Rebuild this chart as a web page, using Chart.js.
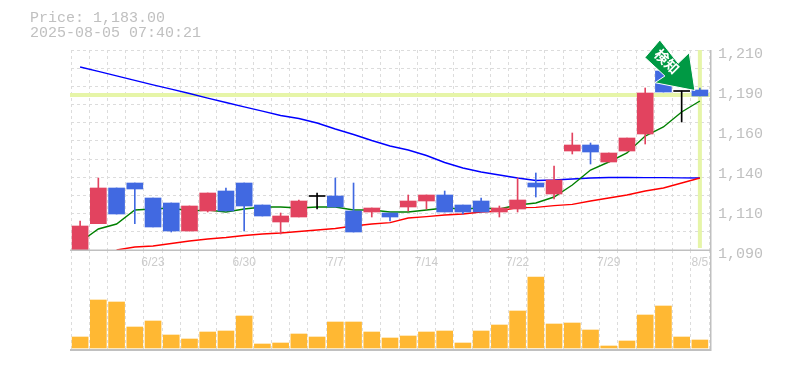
<!DOCTYPE html>
<html>
<head>
<meta charset="utf-8">
<style>
html, body { margin: 0; padding: 0; background: #fff; }
#wrap { position: relative; width: 785px; height: 370px; overflow: hidden; }
canvas { position: absolute; left: 0; top: 0; }
</style>
<script src="https://cdn.jsdelivr.net/npm/chart.js@4/dist/chart.umd.min.js"></script>
</head>
<body>
<div id="wrap">
<canvas id="volumeGraph" width="785" height="370"></canvas>
<canvas id="priceGraph" width="785" height="370"></canvas>
</div>
<script>
var dates = ["6/17","6/18","6/19","6/20","6/23","6/24","6/25","6/26","6/27","6/30","7/1","7/2","7/3","7/4","7/7","7/8","7/9","7/10","7/11","7/14","7/15","7/16","7/17","7/18","7/22","7/23","7/24","7/25","7/28","7/29","7/30","7/31","8/1","8/4","8/5"];
var shownDates = ["6/23","6/30","7/7","7/14","7/22","7/29","8/5"];
var priceTicks = [1090,1114,1138,1162,1186,1210];

var opens  = [1090.0,1105.8,1127.2,1130.2,1121.2,1118.2,1101.4,1113.4,1125.4,1130.2,1117.0,1106.8,1109.8,1122.4,1122.4,1113.4,1112.8,1112.2,1115.8,1119.4,1123.0,1117.0,1119.4,1112.8,1114.6,1130.2,1123.6,1149.4,1153.0,1142.8,1149.4,1159.6,1197.4,1185.4,1186.0];
var closes = [1104.4,1127.2,1111.6,1126.6,1103.8,1101.4,1116.4,1124.2,1113.4,1116.4,1110.4,1110.4,1119.4,1122.4,1115.8,1100.8,1115.2,1109.8,1119.4,1123.0,1112.8,1112.8,1112.8,1115.2,1120.0,1127.8,1132.0,1153.0,1148.8,1148.2,1157.2,1184.2,1184.8,1185.4,1182.4];
var highs  = [1107.4,1133.2,1127.2,1130.2,1121.2,1118.2,1116.4,1124.2,1127.2,1130.2,1117.0,1112.2,1120.0,1124.2,1133.2,1130.2,1115.2,1112.2,1123.0,1123.0,1125.4,1117.0,1121.2,1116.4,1133.2,1136.2,1140.4,1160.2,1154.2,1148.2,1157.2,1187.2,1197.4,1185.4,1187.2];
var lows   = [1090.0,1105.8,1111.6,1105.8,1103.8,1100.8,1101.4,1112.8,1113.4,1101.4,1110.4,1099.6,1109.8,1114.6,1115.8,1100.8,1109.8,1107.4,1113.4,1114.6,1112.8,1111.6,1112.8,1109.8,1112.8,1121.8,1120.6,1147.6,1141.6,1142.8,1149.4,1153.6,1184.8,1166.8,1182.4];

var maShort = [1094.8,1102.6,1105.6,1114.0,1114.6,1115.2,1113.4,1114.0,1112.8,1114.6,1115.8,1115.8,1115.2,1115.8,1115.8,1114.0,1114.0,1112.8,1112.8,1114.0,1115.2,1114.6,1115.2,1114.6,1117.0,1118.2,1121.8,1129.0,1138.0,1142.8,1148.2,1158.4,1163.8,1172.8,1179.4];
var maMid = [null,null,1090.0,1091.8,1092.4,1093.9,1095.4,1096.6,1097.5,1098.7,1099.6,1100.2,1101.1,1102.0,1102.9,1104.4,1105.6,1106.4,1109.2,1110.0,1111.0,1111.6,1112.8,1113.4,1115.4,1115.6,1116.6,1117.4,1119.4,1121.2,1123.0,1125.4,1127.2,1130.2,1133.2];
var maLong = [1199.8,1197.2,1194.5,1191.8,1189.1,1186.5,1183.9,1181.1,1178.5,1175.9,1173.3,1170.7,1168.9,1166.2,1162.6,1159.3,1155.7,1152.4,1150.0,1146.7,1142.5,1139.2,1136.8,1135.0,1133.2,1131.7,1132.0,1132.6,1133.2,1133.5,1133.5,1133.4,1133.4,1133.3,1133.2];
var volumes = [11,48,46,21,27,13,9,16,17,32,4,5,14,11,26,26,16,10,12,16,17,5,17,23,37,71,24,25,18,2,7,33,42,11,8];

var lastPrice = 1183;
var candleUp = "#e2435f";
var candleDown = "#4169e1";
var candleFlat = "#000000";
var gridColor = "#dcdcdc";
var axisColor = "#c0c0c0";
var textColor = "#c0c0c0";
var markerColor = "#e6f5a8";

function candle_color(i) {
    if (closes[i] > opens[i]) {
        return candleUp;
    } else if (closes[i] < opens[i]) {
        return candleDown;
    }
    return candleFlat;
}

var candleColors = dates.map((d, i) => candle_color(i));
var bodies = dates.map((d, i) => (opens[i] == closes[i] ? [opens[i] - 0.3, closes[i] + 0.3] : [opens[i], closes[i]]));
var wicks = dates.map((d, i) => [lows[i], highs[i]]);

function x_scale_options(showLabels) {
    return {
        offset: true,
        border: { display: false, dash: [3, 3] },
        grid: { offset: true, color: gridColor, lineWidth: 1, tickLength: 0, drawTicks: false },
        ticks: {
            display: showLabels,
            autoSkip: false,
            maxRotation: 0,
            padding: 5,
            color: "#cccccc",
            font: { family: "'Liberation Sans'", size: 12 },
            callback: function (value) {
                var label = this.getLabelForValue(value);
                return shownDates.includes(label) ? label : "";
            },
        },
        afterFit: function (axis) {
            axis.height = 20;
        },
    };
}

// current price lines and the header sit outside the datasets
var markerPlugin = {
    id: "markers",
    beforeDatasetsDraw: function (chart) {
        var ctx = chart.ctx;
        var area = chart.chartArea;
        var y = chart.scales.y.getPixelForValue(lastPrice);
        var x = chart.scales.x.getPixelForValue(dates.length - 1);
        ctx.save();
        ctx.fillStyle = markerColor;
        ctx.fillRect(area.left - 1, y - 2, area.right - area.left + 3, 4);
        ctx.fillRect(x - 2, area.top, 4, area.bottom - area.top - 2);
        ctx.restore();
    },
    afterDraw: function (chart) {
        var ctx = chart.ctx;
        var area = chart.chartArea;
        ctx.save();
        // axis frame
        ctx.fillStyle = axisColor;
        ctx.fillRect(area.left - 1, area.bottom - 0.5, area.right - area.left + 2, 1.5);
        ctx.fillRect(area.right + 1, area.top, 1.5, 301);
        // header
        ctx.fillStyle = textColor;
        ctx.font = "15px 'Liberation Mono'";
        ctx.textBaseline = "alphabetic";
        ctx.fillText("Price: 1,183.00", 30, 22);
        ctx.fillText("2025-08-05 07:40:21", 30, 37);
        // arrow pointing at the last candle
        var tipX = chart.scales.x.getPixelForValue(dates.length - 1) - 5;
        var tipY = chart.scales.y.getPixelForValue(lastPrice) - 4.5;
        ctx.translate(tipX, tipY);
        ctx.beginPath();
        ctx.moveTo(0, 0);
        ctx.lineTo(-5.7, -37.8);
        ctx.lineTo(-16.7, -27.2);
        ctx.lineTo(-35, -50.5);
        ctx.lineTo(-50, -33);
        ctx.lineTo(-30, -14.5);
        ctx.lineTo(-40, -7.8);
        ctx.closePath();
        ctx.fillStyle = "#009944";
        ctx.strokeStyle = "#ffffff";
        ctx.lineWidth = 1;
        ctx.fill();
        ctx.stroke();
        ctx.translate(-28, -29);
        ctx.rotate(Math.PI / 4);
        ctx.fillStyle = "#ffffff";
        ctx.font = "bold 14px 'Noto Sans CJK JP'";
        ctx.textAlign = "center";
        ctx.textBaseline = "middle";
        ctx.fillText("検知", 0, 0);
        ctx.restore();
    },
};

var priceConfig = {
    type: "bar",
    data: {
        labels: dates,
        datasets: [
            { type: "line", label: "MA long", data: maLong, borderColor: "#0000ff", borderWidth: 1.4, pointRadius: 0, tension: 0, order: 5 },
            { type: "line", label: "MA mid", data: maMid, borderColor: "#ff0000", borderWidth: 1.4, pointRadius: 0, tension: 0, order: 4 },
            { type: "line", label: "MA short", data: maShort, borderColor: "#008000", borderWidth: 1.4, pointRadius: 0, tension: 0, order: 3 },
            { label: "wick", data: wicks, backgroundColor: candleColors, barThickness: 1, grouped: false, order: 2 },
            { label: "body", data: bodies, backgroundColor: candleColors, barThickness: 16, grouped: false, order: 1 },
        ],
    },
    options: {
        responsive: false,
        animation: false,
        layout: { padding: { left: 71, top: 50, right: 0, bottom: 100 } },
        plugins: { legend: { display: false }, tooltip: { enabled: false }, title: { display: false } },
        scales: {
            x: x_scale_options(true),
            y: {
                position: "right",
                min: 1090,
                max: 1210,
                border: { display: false, dash: [3, 3] },
                grid: { color: gridColor, lineWidth: 1, drawTicks: false },
                ticks: { display: false },
                afterBuildTicks: function (axis) {
                    // grid runs in eleven even rows, independent of the labels
                    var rows = [];
                    for (var i = 0; i <= 11; i++) {
                        rows.push({ value: axis.min + ((axis.max - axis.min) * i) / 11 });
                    }
                    axis.ticks = rows;
                },
                afterFit: function (axis) {
                    axis.width = 0;
                },
            },
            yLabels: {
                position: "right",
                min: 1090,
                max: 1210,
                border: { display: false },
                grid: { display: false },
                ticks: {
                    padding: 1,
                    labelOffset: 4,
                    color: textColor,
                    font: { family: "'Liberation Mono'", size: 15 },
                    callback: function (value) {
                        return (Math.round(value / 10) * 10).toLocaleString("en-US");
                    },
                },
                afterBuildTicks: function (axis) {
                    axis.ticks = priceTicks.map((v) => ({ value: v }));
                },
                afterFit: function (axis) {
                    axis.width = 76;
                },
            },
        },
    },
    plugins: [markerPlugin],
};

var volumeConfig = {
    type: "bar",
    data: {
        labels: dates,
        datasets: [{ label: "volume", data: volumes, backgroundColor: "#ffb833", barThickness: 16 }],
    },
    options: {
        responsive: false,
        animation: false,
        layout: { padding: { left: 71, top: 250, right: 76, bottom: 0 } },
        plugins: { legend: { display: false }, tooltip: { enabled: false } },
        scales: {
            x: x_scale_options(false),
            y: { display: false, min: -2, max: 98 },
        },
    },
};
// baseline under the volume bars
volumeConfig.options.scales.x.border = { display: true, color: axisColor, width: 2, dash: [3, 3] };

var volumeGraph = new Chart("volumeGraph", volumeConfig);
var priceGraph = new Chart("priceGraph", priceConfig);
</script>
</body>
</html>
